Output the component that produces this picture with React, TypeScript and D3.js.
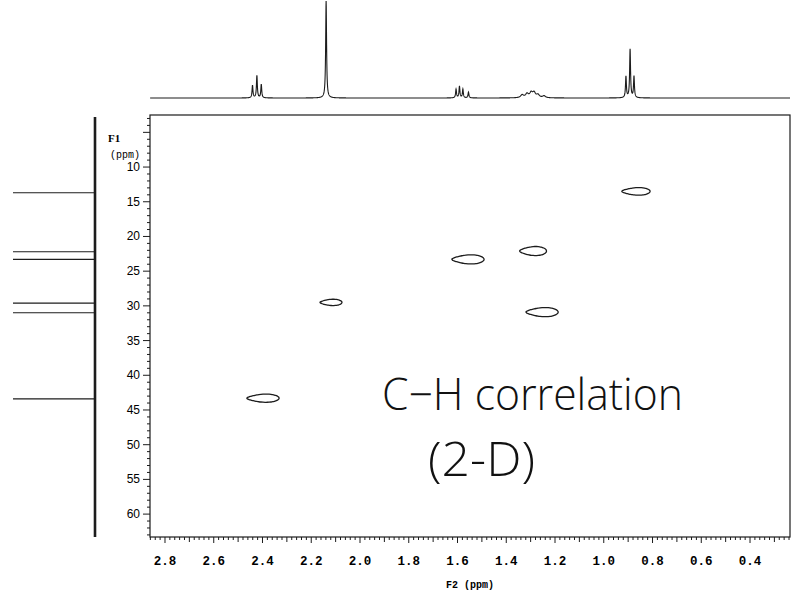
import * as d3 from 'd3';

// 1H projection (top): [ppm, height]
const H_LINES: [number, number][] = [
  [2.441, 13], [2.423, 23], [2.405, 14],
  [2.139, 100],
  [1.606, 9], [1.592, 12], [1.578, 9], [1.555, 6],
  [1.335, 3], [1.315, 4], [1.298, 5], [1.286, 5], [1.27, 3], [1.245, 2],
  [0.909, 22], [0.892, 50], [0.876, 22],
];
const H_BROAD = [1.335, 1.315, 1.298, 1.286, 1.27, 1.245];

// 13C projection (left), ppm
const C_LINES = [13.7, 22.2, 23.3, 29.6, 31.0, 43.4];

// cross peaks: 1H ppm, 13C ppm, half-spread in ppm (1H, 13C)
const CROSS_H = [0.868, 1.29, 1.557, 1.253, 2.119, 2.398];
const CROSS_C = [13.5, 22.1, 23.3, 30.9, 29.5, 43.3];
const CROSS_DH = [0.058, 0.055, 0.066, 0.066, 0.045, 0.066];
const CROSS_DC = [0.6, 0.72, 0.72, 0.72, 0.5, 0.65];

const X_TICKS = [2.8, 2.6, 2.4, 2.2, 2.0, 1.8, 1.6, 1.4, 1.2, 1.0, 0.8, 0.6, 0.4];
const Y_TICKS = [10, 15, 20, 25, 30, 35, 40, 45, 50, 55, 60];

const W = 793;
const H = 603;
const ink = '#1c1c1c';

export default function App() {
  const x = d3.scaleLinear().domain([2.8615, 0.236]).range([150, 790]);
  const y = d3.scaleLinear().domain([2.5, 63.3]).range([115, 537]);
  const hInt = d3.scaleLinear().domain([0, 100]).range([98, 1]);
  const cInt = d3.scaleLinear().domain([0, 100]).range([95, 13]);

  // top 1D spectrum built from the line list
  const grid = d3.range(x.domain()[1], x.domain()[0], 0.0005);
  const spec = grid.map((p) => {
    let s = 0;
    for (const [c, h] of H_LINES) {
      const g = H_BROAD.includes(c) ? 0.007 : 0.0022;
      s += (h * g * g) / ((p - c) * (p - c) + g * g);
    }
    return [p, Math.min(s, 100)] as [number, number];
  });
  const specLine = d3.line<[number, number]>().x((d) => x(d[0])).y((d) => hInt(d[1]));

  const xMinor = d3.range(12, 144).map((i) => i / 50).filter((v) => v >= 0.24 && v <= 2.86);
  const yMinor = d3.range(3, 64);

  const contour = (i: number) => {
    const pts = d3.range(0, 48).map((k) => {
      const t = (k / 48) * Math.PI * 2;
      const narrow = 1 - 0.45 * Math.pow((1 + Math.cos(t)) / 2, 2);
      return [
        x(CROSS_H[i] - CROSS_DH[i] * Math.cos(t) * -1),
        y(CROSS_C[i] + CROSS_DC[i] * Math.sin(t) * narrow),
      ] as [number, number];
    });
    return d3.line().curve(d3.curveCardinalClosed)(pts) as string;
  };

  return (
    <svg width={W} height={H} style={{ position: 'absolute', left: 0, top: 0, background: '#fff' }}>
      {/* top projection */}
      <path d={specLine(spec) as string} fill="none" stroke={ink} strokeWidth={1.1} />

      {/* left projection */}
      <line x1={cInt(0)} x2={cInt(0)} y1={117} y2={537} stroke={ink} strokeWidth={2.6} />
      {C_LINES.map((c, i) => (
        <line key={i} x1={cInt(0)} x2={cInt(100)} y1={y(c)} y2={y(c)} stroke={ink} strokeWidth={1.1} />
      ))}

      {/* frame */}
      <rect x={150} y={115} width={640} height={422} fill="none" stroke={ink} strokeWidth={1.2} />

      {/* x axis ticks */}
      {xMinor.map((v, i) => {
        const major = Math.abs(v * 5 - Math.round(v * 5)) < 1e-6;
        const mid = Math.abs(v * 10 - Math.round(v * 10)) < 1e-6;
        const len = major ? 6 : mid ? 5 : 3;
        return <line key={i} x1={x(v)} x2={x(v)} y1={537} y2={537 + len} stroke={ink} strokeWidth={1} />;
      })}
      {X_TICKS.map((v) => (
        <text key={v} x={x(v)} y={565} textAnchor="middle" fontFamily="Liberation Mono" fontWeight="bold" fontSize={12.5}>
          {v.toFixed(1)}
        </text>
      ))}
      <text x={470} y={588} textAnchor="middle" fontFamily="Liberation Mono" fontWeight="bold" fontSize={10}>
        F2 (ppm)
      </text>

      {/* y axis ticks */}
      {yMinor.map((v) => {
        const len = v % 5 === 0 ? 7 : 3;
        return <line key={v} x1={150 - len} x2={150} y1={y(v)} y2={y(v)} stroke={ink} strokeWidth={1} />;
      })}
      {Y_TICKS.map((v) => (
        <text key={v} x={140} y={y(v) + 4} textAnchor="end" fontFamily="Liberation Sans" fontSize={12}>
          {v}
        </text>
      ))}
      <text x={108} y={142} fontFamily="Liberation Serif" fontWeight="bold" fontSize={11}>F1</text>
      <text x={110} y={158} fontFamily="Liberation Mono" fontSize={10}>(ppm)</text>

      {/* cross peaks */}
      {CROSS_H.map((_, i) => (
        <path key={i} d={contour(i)} fill="none" stroke={ink} strokeWidth={1.3} />
      ))}

      {/* handwritten note */}
      <text x={382} y={410} fontFamily="Open Sans" fontWeight={300} fontSize={44} fill="#111"
        textLength={301} lengthAdjust="spacingAndGlyphs">
        C−H  correlation
      </text>
      <text x={428} y={476} fontFamily="Open Sans" fontWeight={300} fontSize={48} fill="#111"
        textLength={107} lengthAdjust="spacingAndGlyphs">
        (2-D)
      </text>
    </svg>
  );
}
